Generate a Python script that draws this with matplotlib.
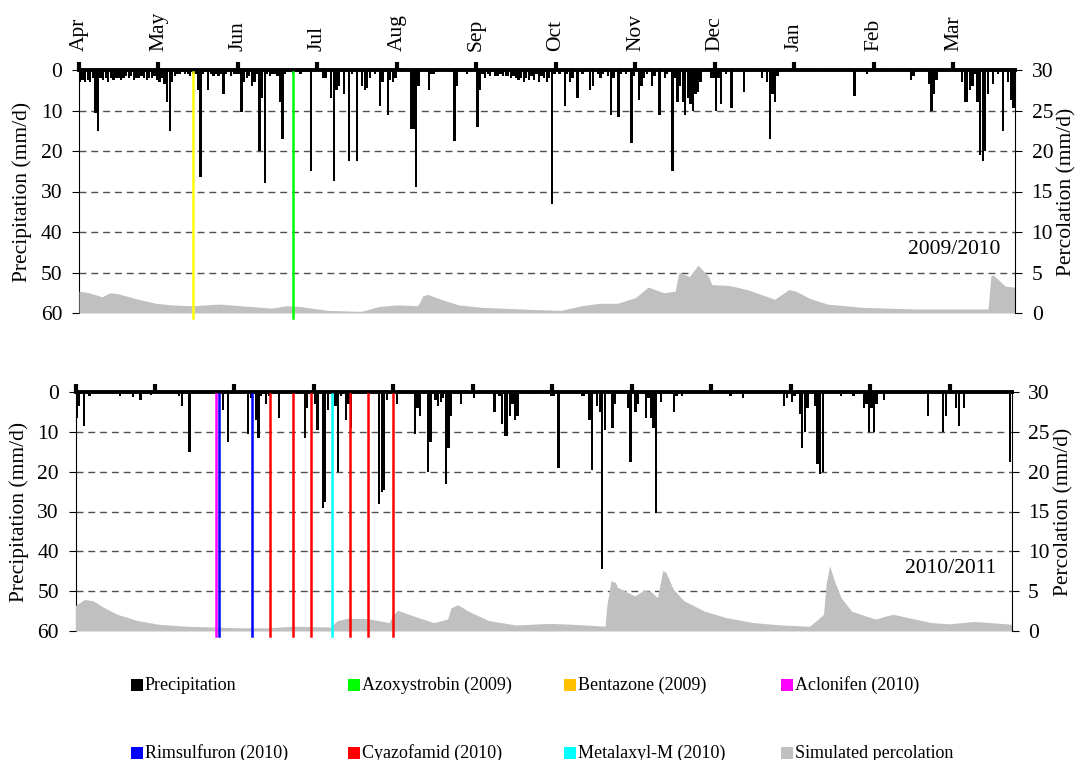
import numpy as np
import matplotlib.pyplot as plt
from matplotlib.patches import Rectangle

plt.rcParams['font.family'] = ['Liberation Serif', 'DejaVu Serif']

months = ['Apr', 'May', 'Jun', 'Jul', 'Aug', 'Sep', 'Oct', 'Nov', 'Dec', 'Jan', 'Feb', 'Mar']

# daily precipitation, (day counted from 1 April, mm/d)
rain09 = [(0, 3), (1, 2.5), (2, 3), (3, 2.5), (4, 3), (5, 2), (6, 10.7), (7, 15), (8, 2), (9, 2.5),
          (10, 2), (11, 3), (12, 2), (13, 2.5), (14, 2), (15, 2), (16, 2.5), (17, 2), (18, 1.5), (19, 2),
          (20, 1.5), (21, 2.5), (22, 2), (23, 2), (24, 1.5), (25, 2), (26, 2.5), (27, 2), (28, 2), (29, 1.5),
          (30, 2.5), (31, 3), (32, 2), (33, 3.5), (34, 8), (35, 15), (36, 3), (37, 1.5), (38, 1), (39, 1),
          (40, 0.5), (41, 1), (42, 1), (43, 1.5), (44, 1), (45, 1), (46, 5), (47, 26.5), (48, 1), (49, 0.5),
          (50, 5), (51, 1), (52, 1.5), (53, 1), (54, 1.5), (55, 1), (56, 6), (57, 1), (58, 0.5), (59, 1.5),
          (60, 1), (61, 1), (62, 1), (63, 10.3), (64, 3), (65, 2), (66, 1.5), (67, 4), (68, 3), (69, 1),
          (70, 20), (71, 7), (72, 28), (73, 1), (74, 1.5), (75, 1), (76, 1), (77, 1.5), (78, 8), (79, 17),
          (80, 1), (81, 0.5), (82, 0.5), (83, 1), (84, 0.5), (85, 0.5), (86, 1), (87, 0.5), (88, 0.5),
          (90, 25), (92, 0.5), (95, 2), (96, 2), (98, 7), (99, 27.5), (100, 5), (101, 4), (103, 6),
          (105, 22.5), (106, 1), (108, 22.5), (110, 4), (111, 5), (112, 4.5), (113, 2), (115, 1), (117, 9),
          (118, 3), (120, 11), (121, 2.5), (122, 3), (123, 2), (125, 0.5), (129, 14.5), (130, 14.5),
          (131, 29), (132, 4), (136, 5), (137, 1), (138, 1), (146, 17.5), (147, 4), (151, 1), (155, 14),
          (156, 5), (157, 1), (158, 2), (159, 1), (160, 1.5), (161, 0.5), (162, 1.5), (163, 1.5), (164, 1),
          (165, 1.5), (166, 1.5), (167, 1.5), (168, 2), (169, 1.5), (170, 2), (171, 2.5), (172, 2),
          (173, 3), (174, 2), (175, 2.5), (176, 1.5), (177, 2.5), (178, 1), (179, 3), (180, 1.5), (181, 2),
          (182, 3), (183, 2), (184, 33), (185, 1), (187, 1), (189, 9), (190, 1), (191, 3), (192, 2),
          (194, 7), (196, 1), (199, 5), (200, 4), (202, 1), (203, 2), (204, 1), (206, 1.5), (207, 11),
          (208, 2), (210, 11.5), (211, 1), (213, 1), (215, 18), (216, 1.5), (218, 7.5), (219, 4), (220, 2),
          (221, 1), (223, 4), (224, 1.5), (226, 11), (228, 2), (229, 1), (231, 25), (232, 2), (233, 8),
          (234, 4), (235, 8), (236, 11), (237, 7), (238, 8.5), (239, 10), (240, 6), (241, 5.5), (242, 3),
          (246, 2), (247, 2), (248, 10), (249, 2), (250, 8.5), (252, 1), (254, 9.5), (259, 5.5), (266, 2),
          (268, 3), (269, 17), (270, 6), (271, 8), (272, 1.5), (302, 6.5), (307, 1), (324, 2.5), (325, 1.5),
          (331, 3.5), (332, 10), (333, 6), (334, 2.5), (344, 3), (345, 8), (346, 8), (347, 5), (348, 4),
          (349, 1), (350, 8), (351, 21), (352, 22.5), (353, 20), (354, 6), (356, 3.5), (358, 1),
          (360, 15), (362, 3), (363, 7.5), (364, 9.5)]

rain10 = [(0, 6.5), (1, 3.5), (3, 8.5), (5, 1), (17, 1), (22, 1.2), (25, 2), (29, 0.8), (33, 0.5),
          (40, 1), (41, 3.5), (44, 15), (57, 4.5), (59, 12.5), (67, 10.5), (68, 1.5), (70, 7), (71, 11.5),
          (72, 1), (74, 3), (75, 1), (79, 6.5), (89, 11.5), (90, 4), (93, 3), (94, 9.5), (96, 29),
          (97, 27.5), (98, 4.5), (101, 3.5), (102, 20), (103, 1), (105, 7), (106, 3), (107, 9), (118, 28),
          (119, 25), (120, 24.5), (121, 2), (125, 3), (132, 10.5), (133, 4), (134, 6), (137, 20),
          (138, 12.5), (140, 2), (141, 3.5), (142, 2.5), (143, 1.5), (144, 23), (145, 14), (146, 6),
          (150, 3), (155, 1.5), (163, 5), (165, 1), (166, 8), (167, 11), (168, 11), (169, 6), (170, 3),
          (171, 7), (172, 6), (177, 0.5), (185, 1), (186, 1), (188, 19), (197, 1), (198, 1), (200, 7),
          (201, 19.5), (203, 3.5), (204, 5), (205, 44.5), (206, 9.5), (209, 9), (210, 3), (215, 4),
          (216, 17.5), (218, 5), (219, 3), (222, 6.5), (223, 1.5), (224, 6.5), (225, 9), (226, 30.5),
          (228, 2.5), (233, 5), (234, 1), (236, 1), (255, 1), (260, 1.5), (276, 3.5), (277, 1.5),
          (279, 2.5), (280, 1), (282, 5.5), (283, 14), (284, 10), (285, 4), (288, 3.5), (289, 18),
          (290, 20.5), (291, 20), (298, 1), (303, 1), (307, 4), (308, 3), (309, 10), (310, 4), (311, 10),
          (312, 3), (315, 2), (332, 6), (338, 10), (339, 6), (343, 4), (344, 8.5), (346, 4), (352, 0.5),
          (364, 17.5)]

# simulated percolation (day, mm/d)
perc09 = [(0, 2.7), (4, 2.5), (9, 2.0), (12, 2.5), (15, 2.4), (23, 1.7), (30, 1.2), (36, 1.0), (44, 0.9),
          (55, 1.1), (63, 0.9), (75, 0.6), (81, 0.9), (86, 0.8), (97, 0.33), (110, 0.2), (117, 0.8),
          (124, 1.0), (132, 0.9), (133, 1.4), (134, 2.1), (136, 2.3), (141, 1.7), (148, 1.0), (157, 0.7),
          (176, 0.45), (188, 0.33), (196, 0.9), (203, 1.2), (210, 1.2), (217, 1.9), (222, 3.2),
          (228, 2.5), (232.5, 2.7), (233.2, 3.9), (234, 5.0), (236, 4.8), (238, 4.5), (241.4, 5.9),
          (245.5, 4.5), (246.8, 3.5), (253.6, 3.4), (260.4, 2.9), (271.3, 1.7), (276.8, 2.9), (279.5, 2.7),
          (285, 1.8), (291.8, 1.1), (305.4, 0.7), (325.8, 0.5), (354.5, 0.5), (355.6, 4.6), (356.5, 4.7),
          (361.3, 3.3), (365, 3.2)]

perc10 = [(0, 3.2), (3.4, 3.95), (6.8, 3.8), (10.8, 3.0), (16.2, 2.1), (24.3, 1.3), (32.3, 0.85),
          (43.1, 0.6), (53.8, 0.5), (64.5, 0.4), (75.3, 0.4), (84.7, 0.6), (99.4, 0.5), (102.1, 1.3),
          (106.2, 1.6), (114.2, 1.55), (122.3, 1.05), (123.6, 1.9), (125.6, 2.6), (131.7, 1.9),
          (139.7, 1.05), (145.1, 1.5), (146.4, 2.9), (149.1, 3.3), (153.1, 2.5), (161.2, 1.3),
          (171.9, 0.75), (181, 0.9), (185.4, 0.95), (193.6, 0.85), (206.5, 0.6), (207.2, 3.2),
          (208.8, 6.3), (210.6, 6.1), (211.3, 5.5), (218.1, 4.4), (221.5, 5.1), (224.2, 5.0),
          (226.9, 4.2), (227.6, 5.25), (229, 7.6), (230.3, 7.35), (233.1, 5.25), (237.2, 3.8),
          (245.3, 2.5), (253.5, 1.7), (264.4, 1.05), (275.3, 0.75), (286.2, 0.6), (288.9, 1.3),
          (291.7, 2.1), (292.7, 5.9), (294.1, 8.2), (295.7, 6.5), (298.5, 4.2), (302.6, 2.5), (308, 1.9),
          (312.1, 1.5), (316.2, 1.9), (318.9, 2.1), (324.4, 1.7), (333.9, 1.05), (340.7, 0.9),
          (350.3, 1.2), (357.1, 1.05), (365, 0.85)]

# pesticide application dates (day, colour)
apps09 = [(44.4, '#FFFF00'), (83.3, '#00FF00')]
apps10 = [(54.6, '#FF00FF'), (55.8, '#0000FF'), (68.8, '#0000FF'), (75.9, '#FF0000'),
          (84.9, '#FF0000'), (91.9, '#FF0000'), (100.1, '#00FFFF'), (107.0, '#FF0000'),
          (114.0, '#FF0000'), (123.9, '#FF0000')]

legend_items = [('Precipitation', 'black'), ('Azoxystrobin (2009)', '#00FF00'),
                ('Bentazone (2009)', '#FFC000'), ('Aclonifen (2010)', '#FF00FF'),
                ('Rimsulfuron (2010)', '#0000FF'), ('Cyazofamid (2010)', '#FF0000'),
                ('Metalaxyl-M (2010)', '#00FFFF'), ('Simulated percolation', '#C0C0C0')]

W, H = 1078, 760
fig = plt.figure(figsize=(W / 100, H / 100), dpi=100)


def panel(rect, rain, perc, apps, year, show_months):
    ax = fig.add_axes(rect)
    d, mm = zip(*rain)
    ax.bar(np.array(d) + 0.4, mm, width=0.9, color='black', zorder=3)
    ax.set_xlim(0, 365)
    ax.set_ylim(60, 0)
    ax.set_yticks(range(0, 61, 10))
    ax.yaxis.grid(True, color='#505050', lw=1, ls=(0, (5, 3.5)), zorder=0)
    ax.set_xticks(np.arange(0, 365, 31))
    ax.set_xticklabels(months)
    ax.tick_params(axis='x', top=True, bottom=False, labeltop=show_months, labelbottom=False,
                   length=5.5, width=3, direction='out', pad=8, labelrotation=90, labelsize=15.5)
    ax.tick_params(axis='y', length=5, width=0.8, labelsize=15.5, pad=7)
    ax.spines['top'].set_linewidth(2.8)
    ax.spines['left'].set_linewidth(0.8)
    ax.spines['bottom'].set_visible(False)
    ax.spines['right'].set_visible(False)
    ax.set_ylabel('Precipitation (mm/d)', fontsize=15.5, labelpad=6)

    axr = ax.twinx()
    pd_, pv = zip(*perc)
    axr.fill_between(pd_, pv, 0, color='#C0C0C0', lw=0, zorder=1)
    axr.set_ylim(0, 30)
    axr.set_yticks(range(0, 31, 5))
    axr.tick_params(axis='y', length=5, width=0.8, labelsize=15.5, pad=7)
    for s in ['top', 'bottom', 'left']:
        axr.spines[s].set_visible(False)
    axr.spines['right'].set_linewidth(0.8)
    axr.set_ylabel('Percolation (mm/d)', fontsize=15.5, labelpad=3)
    for x, c in apps:
        axr.axvline(x, ymin=-0.022, ymax=0.99, color=c, lw=1.8, clip_on=False, zorder=4)
    axr.text(0.984, 0.26, year, transform=axr.transAxes, ha='right', va='center', fontsize=15.5)
    return ax


panel([79 / W, 1 - 313 / H, 936 / W, 243 / H], rain09, perc09, apps09, '2009/2010', True)
panel([75.5 / W, 1 - 631 / H, 936 / W, 239 / H], rain10, perc10, apps10, '2010/2011', False)

# legend laid out like the original: 4 equal columns, 2 rows
col_x = [131, 348, 564, 781]
row_y = [685, 753]
for i, (lab, c) in enumerate(legend_items):
    x = col_x[i % 4]
    y = row_y[i // 4]
    fig.add_artist(Rectangle((x / W, 1 - (y + 6) / H), 12 / W, 12 / H, transform=fig.transFigure,
                             facecolor=c, edgecolor='none'))
    fig.text((x + 14) / W, 1 - y / H, lab, fontsize=13, va='center', ha='left')

fig.savefig('out.png', dpi=100)
